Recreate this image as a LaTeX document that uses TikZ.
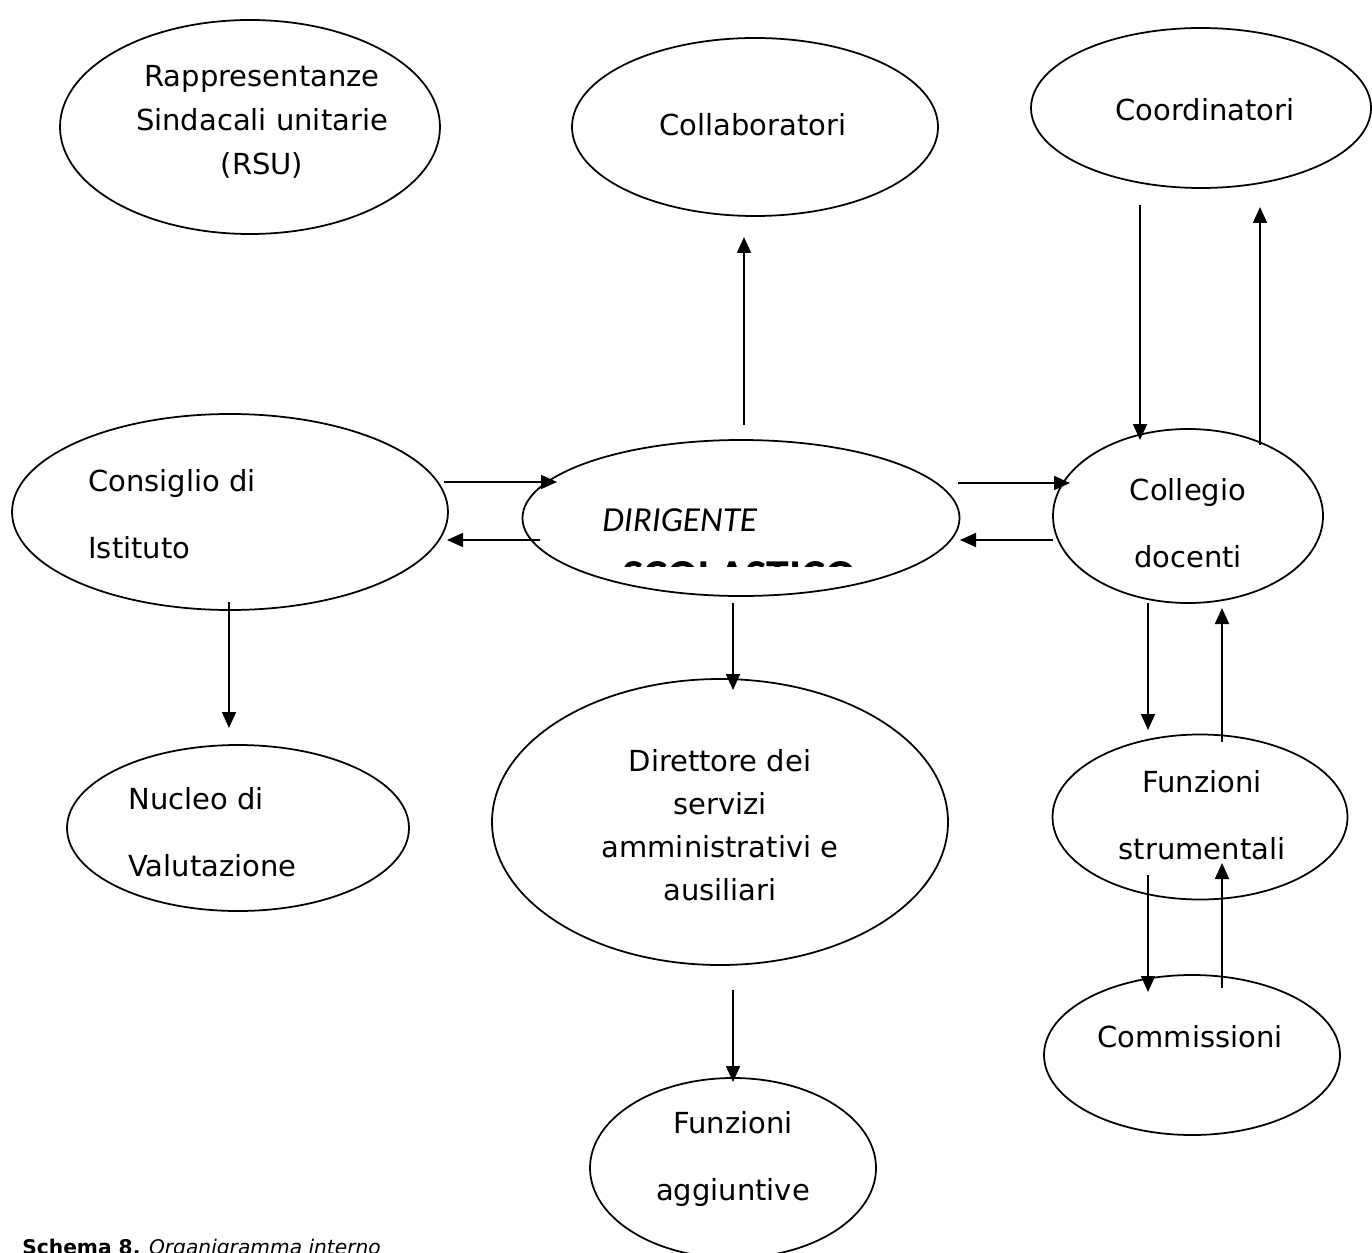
\documentclass[tikz,border=0pt]{standalone}
\usepackage{fontspec}
\setmainfont{DejaVu Sans}
\newfontfamily\carlito{Carlito}
\usetikzlibrary{shapes.geometric,arrows.meta}

\tikzset{
  body/.style={ellipse, draw, line width=1pt, inner sep=0pt,
    minimum width=#1},
  lbl/.style={inner sep=0pt, align=center, font=\fontsize{16.5}{25}\selectfont},
  lblwide/.style={inner sep=0pt, font=\fontsize{16.5}{38}\selectfont},
  link/.style={line width=1pt, -{Triangle[length=3.2mm,width=2.8mm]}}
}

\begin{document}
\begin{tikzpicture}[x=0.2mm,y=-0.2mm]
\useasboundingbox (0,0) rectangle (1372,1252);

% organi (ellissi)
\node[body=380*0.2mm, minimum height=214*0.2mm] (rsu)  at (250,127) {};
\node[body=366*0.2mm, minimum height=178*0.2mm] (coll) at (755,127) {};
\node[body=340*0.2mm, minimum height=160*0.2mm] (coor) at (1201,108) {};
\node[body=436*0.2mm, minimum height=196*0.2mm] (cons) at (230,512) {};
\node[body=437*0.2mm, minimum height=156*0.2mm] (dir)  at (741,518) {};
\node[body=270*0.2mm, minimum height=174*0.2mm] (cdoc) at (1188,516) {};
\node[body=342*0.2mm, minimum height=166*0.2mm] (nucl) at (238,828) {};
\node[body=456*0.2mm, minimum height=286*0.2mm] (dsga) at (720,822) {};
\node[body=295*0.2mm, minimum height=165*0.2mm] (fstr) at (1200,817) {};
\node[body=296*0.2mm, minimum height=160*0.2mm] (comm) at (1192,1055) {};
\node[body=286*0.2mm, minimum height=180*0.2mm] (fagg) at (733,1168) {};

% testi
\node[lbl] (rsu-t)  at (262,122) {Rappresentanze\\Sindacali unitarie\\(RSU)};
\node[lbl] (coll-t) at (753,125) {Collaboratori};
\node[lbl] (coor-t) at (1205,110) {Coordinatori};
\node[lblwide, anchor=west, align=left] (cons-t) at (88,514) {Consiglio di\\Istituto};
\node[inner sep=0pt, anchor=west, font=\carlito\itshape\fontsize{20}{24}\selectfont] (dir-t) at (602,520) {DIRIGENTE};
\begin{scope}
  \clip (590,540) rectangle (900,566);
  \node[inner sep=0pt, anchor=north west, font=\carlito\bfseries\fontsize{26}{30}\selectfont] (dir-t2) at (622,561) {SCOLASTICO};
\end{scope}
\node[lblwide, align=center] (cdoc-t) at (1188,523) {Collegio\\docenti};
\node[lblwide, anchor=west, align=left] (nucl-t) at (128,832) {Nucleo di\\Valutazione};
\node[lbl, font=\fontsize{16.5}{24.5}\selectfont] (dsga-t) at (720,825) {Direttore dei\\servizi\\amministrativi e\\ausiliari};
\node[lblwide, align=center] (fstr-t) at (1202,815) {Funzioni\\strumentali};
\node[lbl] (comm-t) at (1190,1037) {Commissioni};
\node[lblwide, align=center] (fagg-t) at (733,1159) {Funzioni\\aggiuntive};

% didascalia
\node[inner sep=0pt, anchor=north west, font=\fontsize{11.5}{14}\selectfont] (cap) at (22,1239)
  {\textbf{Schema 8.} \textit{Organigramma interno}};

% estremi dei collegamenti
\coordinate (a1s) at (744,425);  \coordinate (a1e) at (744,237);
\coordinate (a2s) at (1140,205); \coordinate (a2e) at (1140,440);
\coordinate (a3s) at (1260,445); \coordinate (a3e) at (1260,207);
\coordinate (a4s) at (444,482);  \coordinate (a4e) at (557,482);
\coordinate (a5s) at (540,540);  \coordinate (a5e) at (447,540);
\coordinate (a6s) at (958,483);  \coordinate (a6e) at (1070,483);
\coordinate (a7s) at (1053,540); \coordinate (a7e) at (960,540);
\coordinate (a8s) at (229,602);  \coordinate (a8e) at (229,728);
\coordinate (a9s) at (733,603);  \coordinate (a9e) at (733,690);
\coordinate (b1s) at (733,990);  \coordinate (b1e) at (733,1082);
\coordinate (b2s) at (1148,603); \coordinate (b2e) at (1148,730);
\coordinate (b3s) at (1222,742); \coordinate (b3e) at (1222,608);
\coordinate (b4s) at (1148,875); \coordinate (b4e) at (1148,992);
\coordinate (b5s) at (1222,988); \coordinate (b5e) at (1222,863);

\foreach \a in {a1,a2,a3,a4,a5,a6,a7,a8,a9,b1,b2,b3,b4,b5}
  \draw[link] (\a s) -- (\a e);
\end{tikzpicture}
\end{document}
